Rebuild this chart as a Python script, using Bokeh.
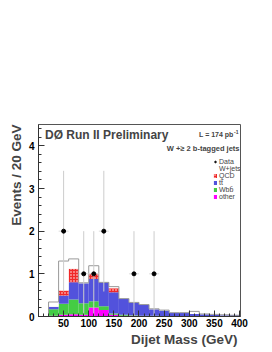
import numpy as np
from bokeh.plotting import figure
from bokeh.models import Range1d, Label, Legend, LegendItem, FixedTicker, Title
from bokeh.embed import file_html
from bokeh.resources import INLINE

# ---- data ----
bin_lo = [20, 40, 60, 80, 100, 120, 140, 160, 180, 200, 220, 240, 260, 280, 300, 320, 340, 360, 380]
bin_hi = [40, 60, 80, 100, 120, 140, 160, 180, 200, 220, 240, 260, 280, 300, 320, 340, 360, 380, 400]
other = [0.02, 0.04, 0.05, 0.04, 0.21, 0.15, 0.04, 0.02, 0.02, 0.01, 0.01, 0.01, 0.01, 0.01, 0.01, 0.0, 0.0, 0.0, 0.0]
wbb   = [0.15, 0.26, 0.35, 0.27, 0.15, 0.09, 0.03, 0.02, 0.01, 0.01, 0.01, 0.0, 0.0, 0.0, 0.0, 0.01, 0.0, 0.0, 0.0]
ttbar = [0.06, 0.19, 0.40, 0.47, 0.52, 0.56, 0.50, 0.37, 0.30, 0.25, 0.15, 0.13, 0.07, 0.07, 0.05, 0.04, 0.04, 0.03, 0.03]
qcd   = [0.0, 0.12, 0.32, 0.0, 0.13, 0.0, 0.09, 0.0, 0.0, 0.0, 0.0, 0.0, 0.0, 0.0, 0.0, 0.0, 0.0, 0.0, 0.0]
wjets = [0.11, 0.69, 0.23, 0.01, 0.18, 0.0, 0.04, 0.01, 0.0, 0.01, 0.01, 0.01, 0.01, 0.01, 0.06, 0.01, 0.01, 0.01, 0.0]

data_x = [50, 90, 110, 130, 190, 230]
data_y = [2, 1, 1, 2, 1, 1]
bin_half = 10

x_ticks = [50, 100, 150, 200, 250, 300, 350, 400]
y_ticks = [0, 1, 2, 3, 4]

FONT = "Liberation Sans"

# ---- stacking ----
layers = [("other", other, "#ff00ff"), ("Wbb\u0304", wbb, "#44cc44"),
          ("tt\u0304", ttbar, "#5252dc"), ("QCD", qcd, "#f02828"),
          ("W+jets", wjets, "#ffffff")]

p = figure(width=272, height=352, output_backend="svg", toolbar_location=None,
           x_range=Range1d(0, 402), y_range=Range1d(0, 4.5),
           min_border_left=38, min_border_right=32, min_border_top=124,
           min_border_bottom=36)
p.grid.visible = False
p.background_fill_color = "white"
p.border_fill_color = "white"
p.outline_line_color = "#555555"

base = np.zeros(len(bin_lo))
rends = {}
for name, vals, col in layers:
    top = base + np.array(vals)
    kw = {}
    if name == "QCD":
        kw = dict(hatch_pattern="dot", hatch_color="white", hatch_scale=3, hatch_weight=1)
    r = p.quad(left=bin_lo, right=bin_hi, bottom=base, top=top, fill_color=col,
               line_color=None, **kw)
    rends[name] = r
    base = top

total = base
step_x = bin_lo + [bin_hi[-1]]
step_y = list(total) + [total[-1]]
p.step(x=step_x, y=step_y, mode="after", line_color="#999999", line_width=1)
p.segment(x0=[bin_lo[0], bin_hi[-1]], x1=[bin_lo[0], bin_hi[-1]], y0=[0, 0],
          y1=[total[0], total[-1]], line_color="#999999", line_width=1)

# legend proxy for W+jets (white box, gray outline)
wj_proxy = p.quad(left=[], right=[], bottom=[], top=[], fill_color="white", line_color="#777777")

# data with errors
err = np.sqrt(np.array(data_y, dtype=float))
dy = np.array(data_y, dtype=float)
p.segment(x0=data_x, x1=data_x, y0=dy - err, y1=dy + err, line_color="#cccccc", line_width=1)
p.segment(x0=np.array(data_x) - bin_half, x1=np.array(data_x) + bin_half, y0=dy, y1=dy,
          line_color="#dddddd", line_width=1)
data_r = p.scatter(data_x, data_y, size=4, color="black")

# axes
for ax in (p.xaxis[0], p.yaxis[0]):
    ax.major_tick_in = 6
    ax.major_tick_out = 0
    ax.minor_tick_in = 3
    ax.minor_tick_out = 0
    ax.axis_line_color = "#333333"
    ax.major_tick_line_color = "#333333"
    ax.minor_tick_line_color = "#333333"
    ax.major_label_text_font = FONT
    ax.major_label_text_font_style = "bold"
    ax.major_label_text_font_size = "10px"
    ax.major_label_text_color = "black"
p.xaxis.ticker = FixedTicker(ticks=x_ticks, minor_ticks=list(range(10, 410, 10)))
p.yaxis.ticker = FixedTicker(ticks=y_ticks, minor_ticks=[i / 5 for i in range(0, 23)])
p.xaxis.major_label_standoff = 2
p.yaxis.major_label_standoff = 4

# axis titles
p.add_layout(Title(text="Dijet Mass (GeV)", align="right", offset=3, standoff=0,
                   text_font=FONT, text_font_style="bold", text_font_size="13.5px"), "below")
p.add_layout(Title(text="Events / 20 GeV", align="right", standoff=4,
                   text_font=FONT, text_font_style="bold", text_font_size="13.5px"), "left")

# header texts
p.add_layout(Label(x=13, y=4.26, text="D\u00d8 Run II Preliminary", text_baseline="middle",
                   text_font=FONT, text_font_style="bold", text_font_size="12px"))
p.add_layout(Label(x=388, y=4.26, text="L = 174 pb", text_align="right", text_baseline="middle",
                   text_font=FONT, text_font_style="bold", text_font_size="7px"))
p.add_layout(Label(x=389, y=4.33, text="-1", text_baseline="middle",
                   text_font=FONT, text_font_style="bold", text_font_size="5px"))
p.add_layout(Label(x=400, y=3.93, text="W +\u2265 2 b-tagged jets", text_align="right",
                   text_baseline="middle", text_font=FONT, text_font_style="bold",
                   text_font_size="7.5px"))

legend = Legend(items=[
    LegendItem(label="Data", renderers=[data_r]),
    LegendItem(label="W+jets", renderers=[wj_proxy]),
    LegendItem(label="QCD", renderers=[rends["QCD"]]),
    LegendItem(label="tt\u0304", renderers=[rends["tt\u0304"]]),
    LegendItem(label="Wbb\u0304", renderers=[rends["Wbb\u0304"]]),
    LegendItem(label="other", renderers=[rends["other"]]),
], location=(175, 116))
legend.background_fill_alpha = 0
legend.border_line_color = None
legend.padding = 0
legend.margin = 0
legend.spacing = 0
legend.glyph_width = 4
legend.glyph_height = 5
legend.label_height = 5
legend.label_standoff = 2
legend.label_text_font = FONT
legend.label_text_font_size = "7px"
legend.label_text_line_height = 1.0
p.add_layout(legend)

open("out.html", "w").write(file_html(p, INLINE))
